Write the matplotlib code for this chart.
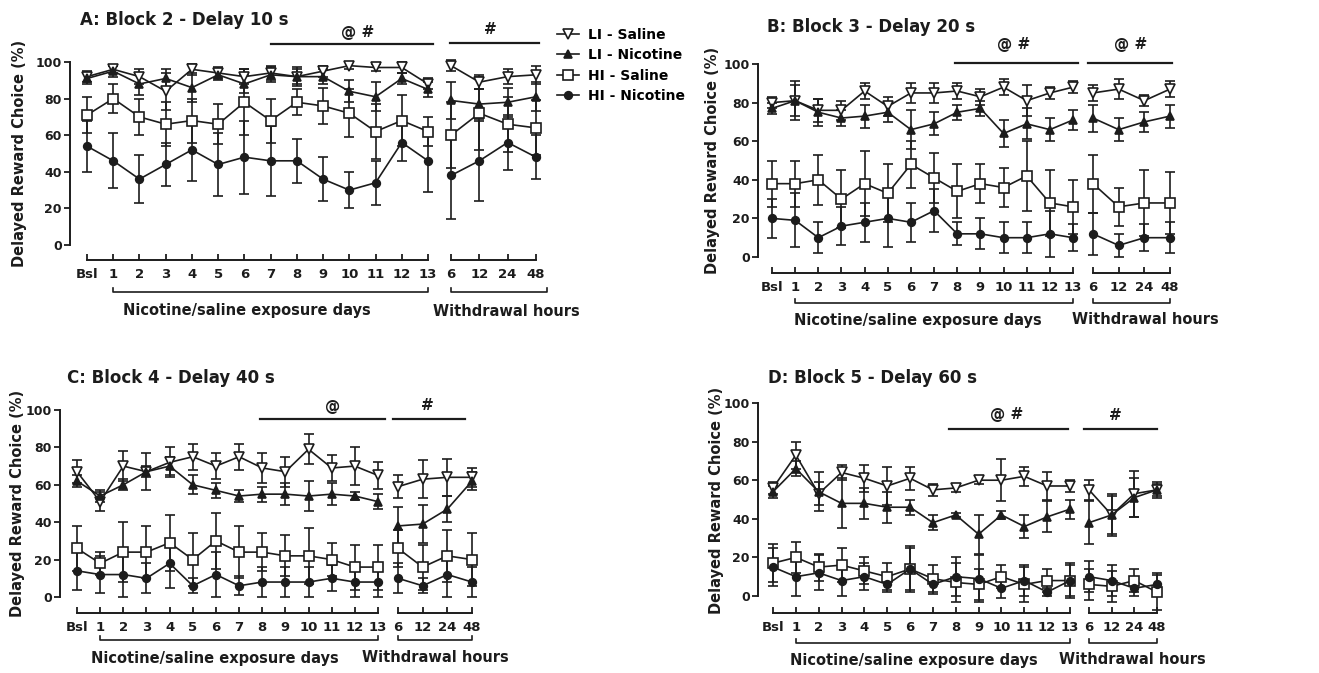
import matplotlib
matplotlib.use('Agg')
import matplotlib.pyplot as plt
from matplotlib.lines import Line2D
from matplotlib.transforms import blended_transform_factory as btf

# ---------------- data ----------------
DAYS = ['Bsl', '1', '2', '3', '4', '5', '6', '7', '8', '9', '10', '11', '12', '13']
HOURS = ['6', '12', '24', '48']
SERIES = ['LI - Saline', 'LI - Nicotine', 'HI - Saline', 'HI - Nicotine']

# each list: 14 exposure-day values followed by 4 withdrawal values
A_LI_SAL = [92, 96, 92, 84, 96, 94, 92, 94, 92, 95, 98, 97, 97, 88, 98, 89, 92, 93]
A_LI_SAL_E = [3, 2, 4, 10, 3, 3, 4, 4, 4, 3, 2, 2, 3, 3, 3, 4, 4, 5]
A_LI_NIC = [91, 95, 88, 91, 86, 93, 88, 93, 92, 92, 84, 81, 91, 85, 79, 77, 78, 81]
A_LI_NIC_E = [3, 3, 6, 5, 8, 3, 5, 4, 5, 4, 6, 8, 3, 4, 10, 8, 8, 8]
A_HI_SAL = [71, 80, 70, 66, 68, 66, 78, 68, 78, 76, 72, 62, 68, 62, 60, 72, 66, 64]
A_HI_SAL_E = [10, 8, 10, 12, 12, 11, 18, 12, 7, 10, 13, 15, 14, 8, 18, 20, 15, 15]
A_HI_NIC = [54, 46, 36, 44, 52, 44, 48, 46, 46, 36, 30, 34, 56, 46, 38, 46, 56, 48]
A_HI_NIC_E = [14, 15, 13, 12, 17, 17, 20, 19, 12, 12, 10, 12, 10, 17, 24, 22, 15, 12]

B_LI_SAL = [80, 81, 76, 76, 86, 78, 85, 85, 86, 83, 88, 81, 85, 88, 85, 87, 81, 87]
B_LI_SAL_E = [3, 8, 6, 5, 4, 5, 5, 5, 4, 4, 4, 8, 3, 3, 4, 5, 3, 4]
B_LI_NIC = [77, 81, 75, 72, 73, 75, 66, 69, 75, 77, 64, 69, 66, 71, 72, 66, 70, 73]
B_LI_NIC_E = [3, 10, 7, 4, 6, 5, 10, 6, 4, 4, 7, 8, 6, 5, 7, 6, 5, 6]
B_HI_SAL = [38, 38, 40, 30, 38, 33, 48, 41, 34, 38, 36, 42, 28, 26, 38, 26, 28, 28]
B_HI_SAL_E = [12, 12, 13, 15, 17, 15, 12, 13, 14, 10, 10, 18, 17, 14, 15, 10, 17, 16]
B_HI_NIC = [20, 19, 10, 16, 18, 20, 18, 24, 12, 12, 10, 10, 12, 10, 12, 6, 10, 10]
B_HI_NIC_E = [10, 14, 8, 10, 10, 15, 10, 11, 6, 8, 8, 8, 12, 7, 11, 6, 7, 8]

C_LI_SAL = [67, 51, 70, 67, 72, 75, 70, 75, 69, 67, 79, 69, 70, 65, 59, 63, 64, 64]
C_LI_SAL_E = [6, 5, 8, 10, 8, 7, 7, 7, 8, 8, 8, 7, 10, 7, 6, 10, 10, 5]
C_LI_NIC = [62, 54, 60, 67, 70, 60, 57, 54, 55, 55, 54, 55, 54, 51, 38, 39, 47, 62]
C_LI_NIC_E = [3, 3, 3, 3, 5, 5, 4, 3, 4, 6, 8, 6, 2, 4, 10, 10, 7, 5]
C_HI_SAL = [26, 18, 24, 24, 29, 20, 30, 24, 24, 22, 22, 20, 16, 16, 26, 16, 22, 20]
C_HI_SAL_E = [12, 6, 16, 14, 15, 14, 15, 14, 10, 11, 15, 9, 12, 12, 10, 12, 14, 14]
C_HI_NIC = [14, 12, 12, 10, 18, 6, 12, 6, 8, 8, 8, 10, 8, 8, 10, 6, 12, 8]
C_HI_NIC_E = [10, 10, 12, 8, 13, 4, 12, 5, 8, 8, 8, 7, 8, 8, 8, 4, 12, 8]

D_LI_SAL = [56, 73, 53, 64, 61, 57, 61, 55, 56, 60, 60, 62, 57, 57, 55, 42, 53, 55]
D_LI_SAL_E = [3, 7, 6, 4, 7, 10, 6, 3, 2, 2, 11, 5, 7, 3, 5, 10, 12, 3]
D_LI_NIC = [54, 66, 54, 48, 48, 46, 46, 38, 42, 32, 42, 36, 41, 45, 38, 42, 51, 55]
D_LI_NIC_E = [3, 4, 10, 13, 8, 8, 4, 4, 1, 10, 2, 6, 8, 5, 11, 11, 10, 4]
D_HI_SAL = [17, 20, 15, 16, 13, 10, 14, 9, 7, 6, 10, 6, 8, 8, 6, 5, 8, 2]
D_HI_SAL_E = [10, 8, 7, 9, 7, 7, 12, 7, 10, 8, 6, 9, 6, 9, 8, 8, 6, 9]
D_HI_NIC = [15, 10, 12, 8, 10, 6, 14, 6, 10, 9, 4, 8, 2, 8, 10, 8, 4, 6]
D_HI_NIC_E = [10, 10, 9, 8, 7, 4, 11, 5, 10, 12, 5, 8, 2, 8, 8, 8, 4, 6]

TITLES = ['A: Block 2 - Delay 10 s', 'B: Block 3 - Delay 20 s',
          'C: Block 4 - Delay 40 s', 'D: Block 5 - Delay 60 s']
SIG_DAYS = ['@ #', '@ #', '@', '@ #']
SIG_WD = ['#', '@ #', '#', '#']

PANEL_DATA = [
    [(A_LI_SAL, A_LI_SAL_E), (A_LI_NIC, A_LI_NIC_E), (A_HI_SAL, A_HI_SAL_E), (A_HI_NIC, A_HI_NIC_E)],
    [(B_LI_SAL, B_LI_SAL_E), (B_LI_NIC, B_LI_NIC_E), (B_HI_SAL, B_HI_SAL_E), (B_HI_NIC, B_HI_NIC_E)],
    [(C_LI_SAL, C_LI_SAL_E), (C_LI_NIC, C_LI_NIC_E), (C_HI_SAL, C_HI_SAL_E), (C_HI_NIC, C_HI_NIC_E)],
    [(D_LI_SAL, D_LI_SAL_E), (D_LI_NIC, D_LI_NIC_E), (D_HI_SAL, D_HI_SAL_E), (D_HI_NIC, D_HI_NIC_E)],
]

# ---------------- layout (pixels) ----------------
W, H = 1319, 673
INK = '#1c1c1c'
LAYOUT = [
    dict(spine=70, x0=87, x13=428, w0=451, w3=536, y0=245, y100=62, bot=260, brk=292, xl=311,
         title=(80, 20), ylab=(20, 153), xl_days=247, xl_wd=506,
         sig_days=(7.0, 13.2, 44, 358, 32), sig_wd=(-0.05, 3.1, 43, 490, 30), brk_wd=(0, 3.4)),
    dict(spine=758, x0=772, x13=1073, w0=1093, w3=1170, y0=257, y100=64, bot=273, brk=303, xl=320,
         title=(767, 27), ylab=(712, 160), xl_days=918, xl_wd=1145,
         sig_days=(7.9, 13.2, 63, 1014, 45), sig_wd=(-0.2, 3.07, 63, 1131, 45), brk_wd=(0, 3)),
    dict(spine=60, x0=77, x13=378, w0=398, w3=472, y0=597, y100=410, bot=613, brk=640, xl=658,
         title=(67, 378), ylab=(18, 503), xl_days=215, xl_wd=435,
         sig_days=(7.9, 13.3, 419, 333, 406), sig_wd=(-0.2, 2.7, 419, 427, 406), brk_wd=(0, 3)),
    dict(spine=758, x0=773, x13=1070, w0=1089, w3=1157, y0=596, y100=403, bot=613, brk=643, xl=660,
         title=(768, 378), ylab=(717, 500), xl_days=914, xl_wd=1132,
         sig_days=(7.7, 12.9, 429, 1007, 415), sig_wd=(-0.2, 3.0, 429, 1115, 415), brk_wd=(0, 3)),
]

STYLES = [
    dict(marker='v', mfc='white', ms=7.0),
    dict(marker='^', mfc=INK, ms=6.0),
    dict(marker='s', mfc='white', ms=7.0),
    dict(marker='o', mfc=INK, ms=5.5),
]

plt.rcParams['font.family'] = ['DejaVu Sans']
plt.rcParams['font.weight'] = 'bold'
fig = plt.figure(figsize=(W / 100, H / 100), dpi=100)
FT = fig.transFigure


def fx(px):
    return px / W


def fy(py):
    return 1 - py / H


def make_axes(left, right, top, bottom, x0, x1, n, y0, y100):
    ax = fig.add_axes([fx(left), fy(bottom), (right - left) / W, (bottom - top) / H])
    step = (x1 - x0) / n
    ax.set_xlim((left - x0) / step, (right - x0) / step)
    sc = (y0 - y100) / 100.0
    ax.set_ylim(-(bottom - y0) / sc, 100 + (y100 - top) / sc)
    ax.patch.set_visible(False)
    for s in ('top', 'right'):
        ax.spines[s].set_visible(False)
    for s in ('left', 'bottom'):
        ax.spines[s].set_linewidth(1.4)
        ax.spines[s].set_color(INK)
    ax.tick_params(axis='x', direction='in', length=4, width=1.3, pad=6,
                   labelsize=9.5, colors=INK)
    ax.tick_params(axis='y', direction='out', length=4, width=1.3, pad=2,
                   labelsize=9, colors=INK)
    return ax


def draw_series(ax, xs, data):
    for (vals, errs), st in zip(data, STYLES):
        ax.errorbar(xs, vals, yerr=errs, color=INK, lw=1.2, elinewidth=1.2,
                    capsize=3.5, capthick=1.2, marker=st['marker'], mfc=st['mfc'],
                    mec=INK, mew=1.2, ms=st['ms'], clip_on=False, zorder=3)


for p, (L, data) in enumerate(zip(LAYOUT, PANEL_DATA)):
    # exposure-days axes
    axd = make_axes(L['spine'], L['x13'] + 14, L['y100'] - 6, L['bot'],
                    L['x0'], L['x13'], 13, L['y0'], L['y100'])
    axd.spines['left'].set_bounds(0, 100)
    axd.spines['bottom'].set_bounds(0, 13)
    axd.set_yticks(range(0, 101, 20))
    axd.set_xticks(range(len(DAYS)))
    axd.set_xticklabels(DAYS)
    draw_series(axd, list(range(len(DAYS))), [(v[:14], e[:14]) for v, e in data])

    # withdrawal axes
    axw = make_axes(L['w0'] - 12, L['w3'] + 14, L['y100'] - 6, L['bot'],
                    L['w0'], L['w3'], 3, L['y0'], L['y100'])
    axw.spines['left'].set_visible(False)
    axw.tick_params(axis='y', left=False, labelleft=False)
    axw.spines['bottom'].set_bounds(0, 3)
    axw.set_xticks(range(len(HOURS)))
    axw.set_xticklabels(HOURS)
    draw_series(axw, list(range(len(HOURS))), [(v[14:], e[14:]) for v, e in data])

    # brackets under the tick labels
    yb = fy(L['brk'])
    yt = fy(L['brk'] - 4)
    axd.plot([1, 1, 13, 13], [yt, yb, yb, yt], transform=btf(axd.transData, FT),
             color=INK, lw=1.2, clip_on=False)
    b0, b1 = L['brk_wd']
    axw.plot([b0, b0, b1, b1], [yt, yb, yb, yt], transform=btf(axw.transData, FT),
             color=INK, lw=1.2, clip_on=False)

    # significance bars
    for ax, sig, txt in ((axd, L['sig_days'], SIG_DAYS[p]), (axw, L['sig_wd'], SIG_WD[p])):
        a, b, ypx, tx, ty = sig
        ax.plot([a, b], [fy(ypx), fy(ypx)], transform=btf(ax.transData, FT),
                color=INK, lw=1.6, clip_on=False)
        fig.text(fx(tx), fy(ty), txt, ha='center', va='center', fontsize=11, color=INK)

    # texts
    fig.text(fx(L['title'][0]), fy(L['title'][1]), TITLES[p], ha='left', va='center',
             fontsize=12, color=INK)
    fig.text(fx(L['ylab'][0]), fy(L['ylab'][1]), 'Delayed Reward Choice (%)', rotation=90,
             ha='center', va='center', fontsize=10.5, color=INK)
    fig.text(fx(L['xl_days']), fy(L['xl']), 'Nicotine/saline exposure days', ha='center',
             va='center', fontsize=10.5, color=INK)
    fig.text(fx(L['xl_wd']), fy(L['xl']), 'Withdrawal hours', ha='center', va='center',
             fontsize=10.5, color=INK)

legend_handles = [Line2D([], [], color=INK, lw=1.2, marker=st['marker'], mfc=st['mfc'],
                         mec=INK, mew=1.2, ms=st['ms']) for st in STYLES]
fig.legend(legend_handles, SERIES, loc='upper left', bbox_to_anchor=(fx(557), fy(28)),
           frameon=False, fontsize=10, handlelength=1.6, handletextpad=0.6,
           labelspacing=0.45, borderpad=0, borderaxespad=0)

fig.savefig('out.png', dpi=100, facecolor='white')
